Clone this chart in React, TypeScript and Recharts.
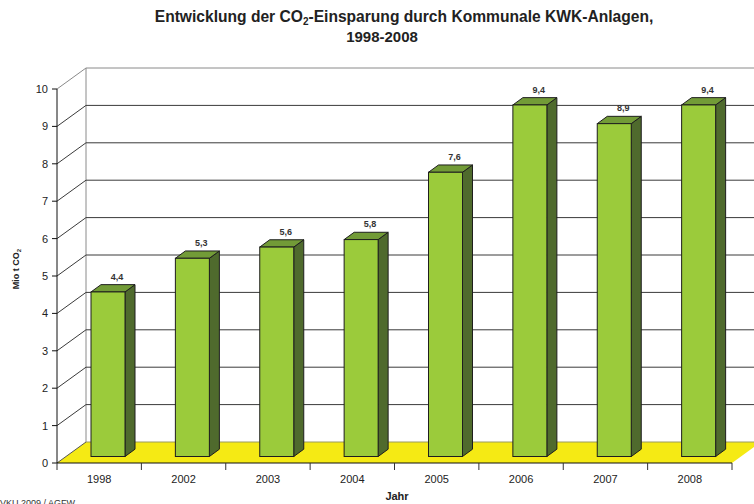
import React from 'react';
import { BarChart, Bar, XAxis, YAxis, CartesianGrid, LabelList } from 'recharts';

const categories = ['1998', '2002', '2003', '2004', '2005', '2006', '2007', '2008'];
const values = [4.4, 5.3, 5.6, 5.8, 7.6, 9.4, 8.9, 9.4];
const yTicks = [0, 1, 2, 3, 4, 5, 6, 7, 8, 9, 10];

const data = categories.map((c, i) => ({ year: c, value: values[i] }));

const W = 754;
const H = 504;
const PLOT_LEFT = 57;
const PLOT_RIGHT = 732;
const PLOT_TOP = 89;
const PLOT_BOTTOM = 463;
const DEPTH_X = 29;
const DEPTH_Y = 21;
const BAR_OFF_X = 9;
const BAR_OFF_Y = 6.5;
const BAR_DX = 10;
const BAR_DY = 7.3;
const FONT = '"Liberation Sans", Arial, Helvetica, sans-serif';

const fmt = (v: number) => v.toFixed(1).replace('.', ',');

const GridLine = (props: any) => {
  const { x1, x2, y1, index } = props;
  const y = y1;
  const gridBottom = props.y != null && props.height != null ? props.y + props.height : PLOT_BOTTOM;
  const gridTop = props.y != null ? props.y : PLOT_TOP;
  const isBottom = Math.abs(y - gridBottom) < 0.5;
  const isTop = Math.abs(y - gridTop) < 0.5;
  if (isBottom) {
    return (
      <g key={`g-${index}`}>
        <polygon
          points={`${x1},${y} ${x1 + DEPTH_X},${y - DEPTH_Y} ${x2 + DEPTH_X},${y - DEPTH_Y} ${x2},${y}`}
          fill="#f5ea14"
          stroke="none"
        />
        <line x1={x1 + DEPTH_X} y1={y - DEPTH_Y} x2={x2 + DEPTH_X} y2={y - DEPTH_Y} stroke="#9a9a60" strokeWidth={1} />
        <line x1={x1 + DEPTH_X} y1={gridTop - DEPTH_Y} x2={x1 + DEPTH_X} y2={y - DEPTH_Y} stroke="#8a8a8a" strokeWidth={1} />
        <line x1={x1} y1={y} x2={x1 + DEPTH_X} y2={y - DEPTH_Y} stroke="#555" strokeWidth={1} />
      </g>
    );
  }
  const col = isTop ? '#8a8a8a' : '#3a3a3a';
  return (
    <g key={`g-${index}`}>
      <line x1={x1} y1={y} x2={x1 + DEPTH_X} y2={y - DEPTH_Y} stroke={col} strokeWidth={1} />
      <line x1={x1 + DEPTH_X} y1={y - DEPTH_Y} x2={x2 + DEPTH_X + 40} y2={y - DEPTH_Y} stroke={col} strokeWidth={1} />
    </g>
  );
};

const Bar3D = (props: any) => {
  const { x, y, width, height } = props;
  if (height == null || height <= 0) return null;
  const fx = x + BAR_OFF_X;
  const fy = y - BAR_OFF_Y;
  const w = width;
  const h = height;
  const stroke = '#1e1e1e';
  return (
    <g>
      <polygon
        points={`${fx + w},${fy} ${fx + w + BAR_DX},${fy - BAR_DY} ${fx + w + BAR_DX},${fy + h - BAR_DY} ${fx + w},${fy + h}`}
        fill="#4f6a2d"
        stroke={stroke}
        strokeWidth={1}
        strokeLinejoin="round"
      />
      <polygon
        points={`${fx},${fy} ${fx + BAR_DX},${fy - BAR_DY} ${fx + w + BAR_DX},${fy - BAR_DY} ${fx + w},${fy}`}
        fill="#729b37"
        stroke={stroke}
        strokeWidth={1}
        strokeLinejoin="round"
      />
      <rect x={fx} y={fy} width={w} height={h} fill="#9bcb3b" stroke={stroke} strokeWidth={1} />
    </g>
  );
};

const ValueLabel = (props: any) => {
  const { x, y, width, value } = props;
  return (
    <text
      x={x + width / 2 + BAR_OFF_X + 9}
      y={y - BAR_OFF_Y - BAR_DY - 5}
      textAnchor="middle"
      fontSize={9}
      fontWeight="bold"
      fill="#333"
      fontFamily={FONT}
    >
      {fmt(Number(value))}
    </text>
  );
};

const XTick = (props: any) => {
  const { x, y, payload, index } = props;
  const band = (PLOT_RIGHT - PLOT_LEFT) / categories.length;
  return (
    <g>
      <line x1={x - band / 2} y1={y} x2={x - band / 2} y2={y + 7} stroke="#333" strokeWidth={1} />
      {index === categories.length - 1 && (
        <line x1={x + band / 2} y1={y} x2={x + band / 2} y2={y + 7} stroke="#333" strokeWidth={1} />
      )}
      <text x={x} y={y + 20} textAnchor="middle" fontSize={11} fill="#222" fontFamily={FONT}>
        {payload.value}
      </text>
    </g>
  );
};

const YTick = (props: any) => {
  const { x, y, payload } = props;
  return (
    <text x={x} y={y + 4} textAnchor="end" fontSize={11} fill="#222" fontFamily={FONT}>
      {payload.value}
    </text>
  );
};

export default function App() {
  const Y_AXIS_W = 30;
  const X_AXIS_H = 30;
  return (
    <div style={{ position: 'absolute', left: 0, top: 0, width: W, height: H, background: '#fff', fontFamily: FONT, overflow: 'hidden' }}>
      <BarChart
        width={W}
        height={H}
        data={data}
        margin={{ top: PLOT_TOP, left: PLOT_LEFT - Y_AXIS_W, right: W - PLOT_RIGHT, bottom: H - PLOT_BOTTOM - X_AXIS_H }}
      >
        <CartesianGrid vertical={false} horizontal={GridLine as any} />
        <XAxis
          dataKey="year"
          height={X_AXIS_H}
          tickLine={false}
          tickSize={0}
          tickMargin={0}
          axisLine={{ stroke: '#111', strokeWidth: 1 }}
          tick={<XTick />}
          interval={0}
        />
        <YAxis
          width={Y_AXIS_W}
          domain={[0, 10]}
          ticks={yTicks}
          interval={0}
          tickSize={5}
          tickMargin={4}
          tickLine={{ stroke: '#111' }}
          axisLine={{ stroke: '#111', strokeWidth: 1 }}
          tick={<YTick />}
        />
        <Bar dataKey="value" barSize={34} shape={<Bar3D />} isAnimationActive={false}>
          <LabelList dataKey="value" content={<ValueLabel />} />
        </Bar>
      </BarChart>

      <div style={{ position: 'absolute', left: 404, top: 7, transform: 'translateX(-50%)', whiteSpace: 'nowrap', fontSize: 15.6, fontWeight: 'bold', color: '#222', lineHeight: '20px' }}>
        Entwicklung der CO<sub style={{ fontSize: 10, verticalAlign: 'baseline', position: 'relative', top: 3 }}>2</sub>-Einsparung durch Kommunale KWK-Anlagen,
      </div>
      <div style={{ position: 'absolute', left: 382, top: 27, transform: 'translateX(-50%)', whiteSpace: 'nowrap', fontSize: 15, fontWeight: 'bold', color: '#222', lineHeight: '20px' }}>
        1998-2008
      </div>

      <div style={{ position: 'absolute', left: 16, top: 269, transform: 'translate(-50%, -50%) rotate(-90deg)', fontSize: 9, fontWeight: 'bold', color: '#222', whiteSpace: 'nowrap', lineHeight: '10px' }}>
        Mio t CO<sub style={{ fontSize: 6, verticalAlign: 'baseline', position: 'relative', top: 2 }}>2</sub>
      </div>

      <div style={{ position: 'absolute', left: 397, top: 490, transform: 'translateX(-50%)', fontSize: 11, fontWeight: 'bold', color: '#222', lineHeight: '12px' }}>
        Jahr
      </div>

      <div style={{ position: 'absolute', left: 0, top: 498, fontSize: 9, color: '#333', whiteSpace: 'nowrap', lineHeight: '10px' }}>
        VKU 2009 / AGFW
      </div>
    </div>
  );
}
